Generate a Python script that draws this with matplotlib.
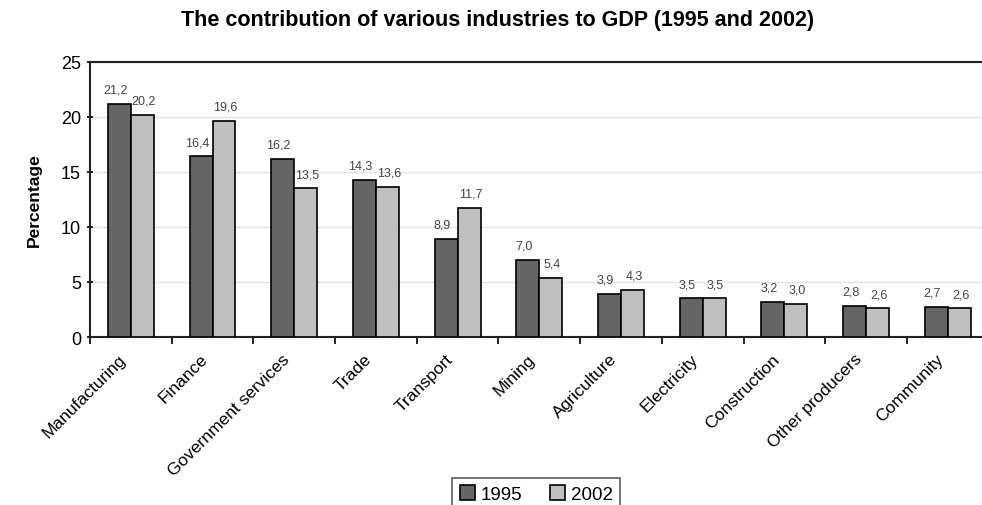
import numpy as np
import matplotlib
matplotlib.use('Agg')
import matplotlib.pyplot as plt

plt.rcParams['font.family'] = ['Liberation Sans', 'DejaVu Sans']

# data
industries = ['Manufacturing', 'Finance', 'Government services', 'Trade', 'Transport',
              'Mining', 'Agriculture', 'Electricity', 'Construction', 'Other producers',
              'Community']
gdp_1995 = [21.2, 16.4, 16.2, 14.3, 8.9, 7.0, 3.9, 3.5, 3.2, 2.8, 2.7]
gdp_2002 = [20.2, 19.6, 13.5, 13.6, 11.7, 5.4, 4.3, 3.5, 3.0, 2.6, 2.6]
years = ['1995', '2002']

fig = plt.figure(figsize=(9.82, 5.06), dpi=100)
ax = fig.add_axes([0.0917, 0.332, 0.915, 0.544])

x = np.arange(len(industries))
w = 0.28
b1 = ax.bar(x - w/2, gdp_1995, w, color='#656565', edgecolor='black', linewidth=1.2, label=years[0], zorder=3)
b2 = ax.bar(x + w/2, gdp_2002, w, color='#c0c0c0', edgecolor='black', linewidth=1.2, label=years[1], zorder=3)

def fmt(v):
    return ('%.1f' % v).replace('.', ',')

for rect, v in zip(b1, gdp_1995):
    ax.annotate(fmt(v), (rect.get_x() + rect.get_width()/2, v), xytext=(-3, 6),
                textcoords='offset points', ha='center', va='bottom', fontsize=9, color='#444444')
for rect, v in zip(b2, gdp_2002):
    ax.annotate(fmt(v), (rect.get_x() + rect.get_width()/2, v), xytext=(1, 6),
                textcoords='offset points', ha='center', va='bottom', fontsize=9, color='#444444')

ax.set_ylim(0, 25)
ax.set_yticks([0, 5, 10, 15, 20, 25])
ax.set_xlim(-0.5, len(industries) - 0.5)
ax.yaxis.grid(True, color='#e2e2e2', linewidth=1, zorder=0)
ax.set_axisbelow(True)

# ticks between categories
ax.set_xticks(np.arange(len(industries)) - 0.5)
ax.set_xticklabels([])
ax.set_xticks(x - 0.15, minor=True)
ax.set_xticklabels(industries, minor=True, rotation=45, ha='right', va='top',
                   rotation_mode='anchor', fontsize=12.5)
ax.tick_params(axis='x', which='minor', length=0, pad=10)
ax.tick_params(axis='x', which='major', length=5, direction='out', width=1.2)
ax.tick_params(axis='y', labelsize=13, length=5, direction='inout', width=1.2, pad=4)

for s in ['left', 'bottom', 'top']:
    ax.spines[s].set_linewidth(1.5)
    ax.spines[s].set_color('#222222')
ax.spines['right'].set_visible(False)

ax.set_ylabel('Percentage', fontsize=12.5, fontweight='bold', labelpad=14)
fig.suptitle('The contribution of various industries to GDP (1995 and 2002)',
             fontsize=15.5, fontweight='bold', x=0.507, y=0.98)

leg = fig.legend(handles=[b1, b2], labels=years, loc='upper center',
                 bbox_to_anchor=(0.546, 0.072), ncol=2, fontsize=13.5, frameon=True,
                 fancybox=False, edgecolor='#333333', handlelength=0.8, handleheight=0.8,
                 handletextpad=0.3, columnspacing=1.5, borderpad=0.4)
leg.get_frame().set_linewidth(1.2)

fig.savefig('out.png', dpi=100)
